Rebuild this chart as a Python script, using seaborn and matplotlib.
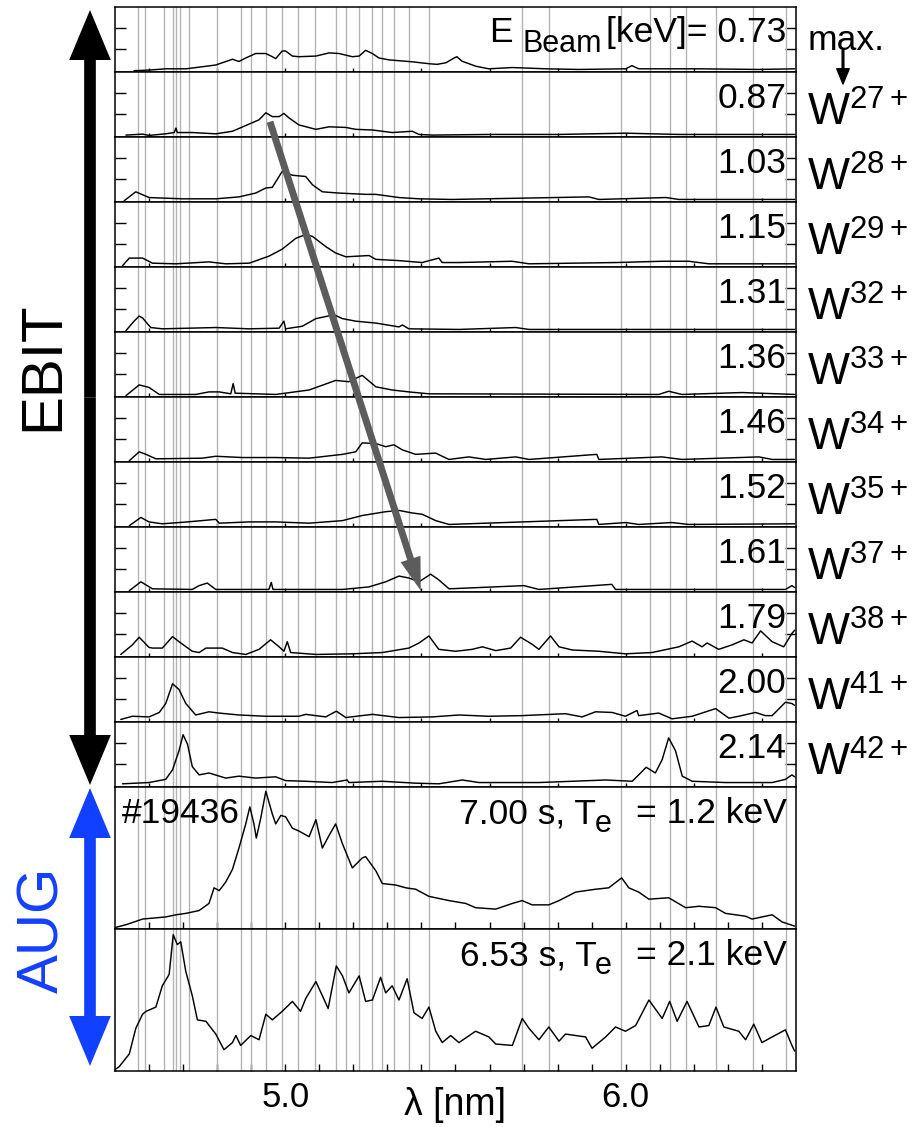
import numpy as np
import pandas as pd
import matplotlib
matplotlib.use("Agg")
import matplotlib.pyplot as plt
from matplotlib.patches import FancyArrowPatch, ConnectionPatch, ArrowStyle
import seaborn as sns

# ---------------- data: normalised intensity vs wavelength (nm) ----------------
lam_073 = [4.556, 4.600, 4.649, 4.708, 4.747, 4.796, 4.845, 4.864, 4.884, 4.913, 4.943, 4.962, 4.972,
           4.991, 5.001, 5.021, 5.040, 5.090, 5.129, 5.158, 5.197, 5.217, 5.236, 5.256, 5.275, 5.305,
           5.373, 5.422, 5.446, 5.472, 5.496, 5.504, 5.519, 5.560, 5.598, 5.666, 5.766, 5.862, 6.000,
           6.018, 6.038, 6.215, 6.391, 6.496]
int_073 = [0.00, 0.01, 0.03, 0.03, 0.056, 0.09, 0.18, 0.145, 0.20, 0.27, 0.27, 0.22, 0.19,
           0.31, 0.31, 0.23, 0.22, 0.23, 0.28, 0.27, 0.22, 0.23, 0.32, 0.27, 0.20, 0.17,
           0.14, 0.11, 0.10, 0.125, 0.20, 0.22, 0.15, 0.07, 0.03, 0.05, 0.03, 0.02, 0.03,
           0.08, 0.03, 0.03, 0.02, 0.03]

lam_087 = [4.532, 4.581, 4.600, 4.649, 4.674, 4.679, 4.683, 4.727, 4.796, 4.845, 4.884, 4.923, 4.943,
           4.962, 4.982, 4.996, 5.011, 5.040, 5.090, 5.129, 5.178, 5.207, 5.256, 5.314, 5.373, 5.393,
           5.432, 5.598, 5.804, 6.000, 6.156, 6.496]
int_087 = [0.01, 0.025, 0.005, 0.03, 0.05, 0.12, 0.05, 0.05, 0.03, 0.07, 0.16, 0.25, 0.36,
           0.30, 0.30, 0.35, 0.28, 0.17, 0.10, 0.14, 0.13, 0.10, 0.09, 0.05, 0.07, 0.02,
           0.01, 0.02, 0.02, 0.04, 0.02, 0.02]

lam_103 = [4.527, 4.561, 4.600, 4.649, 4.698, 4.796, 4.864, 4.913, 4.943, 4.962, 4.991, 5.021, 5.060,
           5.080, 5.109, 5.158, 5.236, 5.266, 5.334, 5.393, 5.490, 5.892, 5.921, 6.118, 6.156, 6.496]
int_103 = [0.00, 0.14, 0.05, 0.04, 0.03, 0.03, 0.06, 0.12, 0.20, 0.21, 0.46, 0.40, 0.38,
           0.25, 0.14, 0.12, 0.10, 0.10, 0.05, 0.03, 0.02, 0.06, 0.02, 0.05, 0.02, 0.02]

lam_115 = [4.522, 4.542, 4.581, 4.610, 4.679, 4.776, 4.825, 4.894, 4.952, 4.991, 5.031, 5.060, 5.080,
           5.119, 5.148, 5.178, 5.246, 5.266, 5.334, 5.402, 5.451, 5.461, 5.510, 5.666, 5.716, 5.971,
           6.106, 6.185, 6.244, 6.496]
int_115 = [0.00, 0.12, 0.12, 0.04, 0.03, 0.06, 0.03, 0.04, 0.15, 0.26, 0.43, 0.49, 0.46,
           0.30, 0.20, 0.14, 0.16, 0.10, 0.08, 0.05, 0.12, 0.05, 0.05, 0.07, 0.03, 0.05,
           0.07, 0.07, 0.03, 0.03]

lam_131 = [4.532, 4.556, 4.571, 4.581, 4.605, 4.639, 4.796, 4.894, 4.982, 4.996, 5.001, 5.050, 5.090,
           5.143, 5.168, 5.207, 5.266, 5.334, 5.344, 5.363, 5.510, 5.677, 5.716, 6.496]
int_131 = [0.00, 0.15, 0.23, 0.20, 0.05, 0.03, 0.05, 0.03, 0.04, 0.15, 0.03, 0.07, 0.19,
           0.25, 0.19, 0.15, 0.12, 0.06, 0.09, 0.03, 0.02, 0.05, 0.02, 0.02]

lam_136 = [4.532, 4.571, 4.600, 4.630, 4.737, 4.776, 4.806, 4.840, 4.847, 4.853, 4.972, 5.070, 5.148,
           5.187, 5.226, 5.266, 5.314, 5.363, 5.422, 6.097, 6.126, 6.165, 6.341, 6.496]
int_136 = [0.00, 0.17, 0.13, 0.02, 0.02, 0.06, 0.06, 0.03, 0.19, 0.04, 0.02, 0.09, 0.24,
           0.22, 0.32, 0.14, 0.09, 0.06, 0.03, 0.02, 0.07, 0.02, 0.05, 0.02]

lam_146 = [4.542, 4.571, 4.591, 4.620, 4.756, 4.796, 4.874, 4.972, 5.070, 5.168, 5.207, 5.226, 5.266,
           5.295, 5.319, 5.344, 5.383, 5.442, 5.461, 5.481, 5.539, 5.589, 5.677, 5.716, 5.915, 5.921,
           6.106, 6.165, 6.391, 6.430, 6.496]
int_146 = [0.00, 0.14, 0.10, 0.03, 0.04, 0.07, 0.05, 0.05, 0.04, 0.10, 0.14, 0.28, 0.27,
           0.22, 0.25, 0.17, 0.10, 0.12, 0.07, 0.02, 0.06, 0.02, 0.06, 0.02, 0.10, 0.02,
           0.06, 0.02, 0.06, 0.02, 0.02]

lam_152 = [4.542, 4.576, 4.600, 4.639, 4.713, 4.796, 4.806, 4.894, 4.972, 5.070, 5.168, 5.226, 5.295,
           5.334, 5.373, 5.402, 5.442, 5.481, 5.915, 5.921, 6.000, 6.038, 6.135, 6.185, 6.496]
int_152 = [0.00, 0.13, 0.06, 0.03, 0.06, 0.10, 0.04, 0.06, 0.06, 0.04, 0.08, 0.16, 0.22,
           0.24, 0.20, 0.18, 0.08, 0.02, 0.10, 0.02, 0.05, 0.02, 0.05, 0.02, 0.03]

lam_161 = [4.542, 4.576, 4.610, 4.727, 4.747, 4.771, 4.796, 4.952, 4.959, 4.964, 5.168, 5.246, 5.295,
           5.334, 5.363, 5.393, 5.427, 5.451, 5.481, 5.701, 5.745, 5.959, 5.970, 6.469, 6.488, 6.496]
int_161 = [0.00, 0.14, 0.03, 0.02, 0.08, 0.12, 0.02, 0.02, 0.13, 0.02, 0.02, 0.06, 0.14,
           0.23, 0.20, 0.14, 0.26, 0.17, 0.03, 0.08, 0.02, 0.10, 0.02, 0.02, 0.08, 0.05]

lam_179 = [4.517, 4.551, 4.571, 4.600, 4.610, 4.639, 4.669, 4.688, 4.727, 4.747, 4.767, 4.815, 4.845,
           4.884, 4.923, 4.957, 4.982, 4.996, 5.006, 5.016, 5.090, 5.197, 5.285, 5.363, 5.393, 5.422,
           5.451, 5.500, 5.549, 5.579, 5.618, 5.662, 5.691, 5.725, 5.745, 5.779, 5.804, 5.843, 5.921,
           5.999, 6.077, 6.156, 6.195, 6.224, 6.239, 6.273, 6.312, 6.347, 6.371, 6.396, 6.430, 6.464,
           6.488, 6.496]
int_179 = [0.02, 0.17, 0.29, 0.13, 0.12, 0.12, 0.30, 0.22, 0.07, 0.05, 0.12, 0.12, 0.05,
           0.02, 0.10, 0.25, 0.14, 0.07, 0.22, 0.05, 0.02, 0.03, 0.05, 0.12, 0.20, 0.31,
           0.10, 0.07, 0.10, 0.14, 0.08, 0.12, 0.29, 0.18, 0.10, 0.31, 0.14, 0.09, 0.07,
           0.03, 0.05, 0.14, 0.23, 0.14, 0.20, 0.10, 0.17, 0.25, 0.20, 0.39, 0.22, 0.14,
           0.35, 0.40]

lam_200 = [4.517, 4.551, 4.600, 4.630, 4.649, 4.669, 4.688, 4.708, 4.737, 4.776, 4.806, 4.864, 4.943,
           5.040, 5.060, 5.119, 5.150, 5.178, 5.256, 5.334, 5.432, 5.510, 5.598, 5.695, 5.823, 5.872,
           5.911, 5.960, 5.999, 6.033, 6.038, 6.097, 6.136, 6.195, 6.264, 6.303, 6.332, 6.381, 6.410,
           6.430, 6.469, 6.488, 6.496]
int_200 = [0.02, 0.07, 0.06, 0.13, 0.27, 0.58, 0.49, 0.27, 0.09, 0.14, 0.12, 0.09, 0.07,
           0.07, 0.10, 0.06, 0.15, 0.05, 0.10, 0.05, 0.06, 0.09, 0.07, 0.08, 0.11, 0.06,
           0.14, 0.13, 0.07, 0.16, 0.08, 0.12, 0.03, 0.07, 0.19, 0.04, 0.07, 0.13, 0.08,
           0.08, 0.29, 0.27, 0.24]

lam_214 = [4.522, 4.600, 4.649, 4.669, 4.688, 4.700, 4.713, 4.727, 4.747, 4.776, 4.825, 4.864, 4.913,
           4.972, 5.001, 5.060, 5.138, 5.182, 5.187, 5.285, 5.383, 5.451, 5.520, 5.569, 5.745, 5.941,
           6.019, 6.038, 6.060, 6.087, 6.107, 6.126, 6.146, 6.166, 6.195, 6.293, 6.430, 6.469, 6.488,
           6.496]
int_214 = [0.03, 0.05, 0.10, 0.25, 0.55, 0.80, 0.65, 0.30, 0.17, 0.20, 0.12, 0.15, 0.12,
           0.14, 0.08, 0.07, 0.05, 0.09, 0.05, 0.07, 0.04, 0.03, 0.09, 0.05, 0.05, 0.09,
           0.07, 0.17, 0.29, 0.20, 0.41, 0.75, 0.55, 0.15, 0.07, 0.05, 0.05, 0.10, 0.17,
           0.14]

# ---------------- tokamak (AUG) spectra ----------------
lam_aug_700 = [4.500, 4.532, 4.581, 4.649, 4.679, 4.708, 4.747, 4.776, 4.791, 4.806, 4.825, 4.845, 4.864,
               4.884, 4.896, 4.908, 4.915, 4.928, 4.943, 4.962, 4.972, 4.987, 5.001, 5.021, 5.040, 5.070,
               5.090, 5.109, 5.129, 5.148, 5.168, 5.197, 5.226, 5.236, 5.266, 5.285, 5.324, 5.354, 5.383,
               5.422, 5.481, 5.530, 5.559, 5.618, 5.667, 5.696, 5.725, 5.774, 5.804, 5.853, 5.911, 5.950,
               5.988, 6.009, 6.038, 6.068, 6.126, 6.176, 6.215, 6.264, 6.293, 6.352, 6.371, 6.430, 6.459,
               6.496]
int_aug_700 = [0.01, 0.03, 0.07, 0.085, 0.10, 0.11, 0.13, 0.18, 0.29, 0.27, 0.33, 0.42, 0.57,
               0.74, 0.86, 0.74, 0.64, 0.78, 0.97, 0.81, 0.74, 0.80, 0.79, 0.71, 0.69, 0.65,
               0.77, 0.57, 0.66, 0.74, 0.60, 0.43, 0.50, 0.51, 0.41, 0.32, 0.31, 0.29, 0.28,
               0.23, 0.20, 0.18, 0.15, 0.14, 0.18, 0.20, 0.17, 0.17, 0.20, 0.26, 0.28, 0.29,
               0.36, 0.29, 0.26, 0.21, 0.22, 0.15, 0.16, 0.15, 0.11, 0.09, 0.07, 0.10, 0.05,
               0.02]

lam_aug_653 = [4.500, 4.512, 4.542, 4.561, 4.581, 4.591, 4.620, 4.639, 4.659, 4.671, 4.683, 4.693, 4.708,
               4.727, 4.742, 4.767, 4.796, 4.820, 4.845, 4.855, 4.869, 4.899, 4.923, 4.943, 4.962, 4.991,
               5.021, 5.045, 5.060, 5.090, 5.109, 5.126, 5.150, 5.168, 5.187, 5.217, 5.236, 5.256, 5.280,
               5.295, 5.314, 5.334, 5.358, 5.378, 5.402, 5.422, 5.442, 5.461, 5.486, 5.510, 5.559, 5.598,
               5.618, 5.667, 5.696, 5.716, 5.745, 5.774, 5.804, 5.823, 5.882, 5.901, 5.941, 5.970, 5.999,
               6.029, 6.068, 6.107, 6.129, 6.151, 6.180, 6.215, 6.244, 6.265, 6.288, 6.332, 6.352, 6.376,
               6.400, 6.430, 6.469, 6.488, 6.496]
int_aug_653 = [0.01, 0.03, 0.12, 0.30, 0.40, 0.42, 0.45, 0.60, 0.68, 0.96, 0.89, 0.91, 0.70,
               0.53, 0.36, 0.35, 0.26, 0.15, 0.20, 0.25, 0.18, 0.25, 0.22, 0.40, 0.36, 0.42,
               0.49, 0.42, 0.51, 0.63, 0.53, 0.44, 0.74, 0.67, 0.55, 0.67, 0.49, 0.50, 0.66,
               0.55, 0.60, 0.50, 0.65, 0.41, 0.37, 0.45, 0.28, 0.20, 0.25, 0.20, 0.28, 0.24,
               0.19, 0.18, 0.37, 0.30, 0.22, 0.31, 0.21, 0.26, 0.24, 0.16, 0.24, 0.31, 0.28,
               0.32, 0.50, 0.37, 0.49, 0.35, 0.49, 0.31, 0.32, 0.45, 0.31, 0.28, 0.22, 0.33,
               0.20, 0.24, 0.29, 0.18, 0.14]

ebit_lam = [lam_073, lam_087, lam_103, lam_115, lam_131, lam_136, lam_146, lam_152, lam_161,
            lam_179, lam_200, lam_214]
ebit_int = [int_073, int_087, int_103, int_115, int_131, int_136, int_146, int_152, int_161,
            int_179, int_200, int_214]
beam_energies = ["0.73", "0.87", "1.03", "1.15", "1.31", "1.36", "1.46", "1.52", "1.61",
                 "1.79", "2.00", "2.14"]
charge_states = ["27+", "28+", "29+", "32+", "33+", "34+", "35+", "37+", "38+", "41+", "42+"]

aug_lam = [lam_aug_700, lam_aug_653]
aug_int = [int_aug_700, int_aug_653]
aug_times = ["7.00", "6.53"]
aug_te = ["1.2", "2.1"]
aug_shot = "#19436"

# reference wavelengths (nm) marked by thin grey lines
ref_lines = [4.568, 4.588, 4.645, 4.669, 4.678, 4.692, 4.717, 4.799, 4.871, 4.898, 4.944, 4.990,
             5.038, 5.087, 5.148, 5.177, 5.218, 5.255, 5.283, 5.320, 5.362, 5.422, 5.694, 5.774,
             5.987, 6.070, 6.129, 6.178, 6.265, 6.375, 6.471]

# trend arrow: peak shift from the 0.87 keV to the 1.61 keV spectrum
trend_start = (4.955, 0.22)   # in the 0.87 keV panel
trend_end = (5.398, 0.0)      # in the 1.61 keV panel

# ---------------- style ----------------
sns.set_theme(style="white")
plt.rcParams["font.family"] = ["Liberation Sans", "DejaVu Sans"]
plt.rcParams["mathtext.fontset"] = "custom"
plt.rcParams["mathtext.rm"] = "Liberation Sans"
plt.rcParams["mathtext.it"] = "Liberation Sans:italic"
plt.rcParams["mathtext.bf"] = "Liberation Sans:bold"
plt.rcParams["axes.edgecolor"] = "black"
plt.rcParams["axes.linewidth"] = 1.1
plt.rcParams["text.color"] = "black"
plt.rcParams["axes.labelcolor"] = "black"
plt.rcParams["xtick.color"] = "black"
plt.rcParams["ytick.color"] = "black"

W, H = 916, 1127
fig = plt.figure(figsize=(W / 100, H / 100), dpi=100)
fig.patch.set_facecolor("white")

def fx(px):
    return px / W

def fy(py):
    return 1 - py / H

gs = fig.add_gridspec(14, 1, height_ratios=[65] * 12 + [142, 142],
                      left=fx(115), right=fx(796), top=fy(7), bottom=fy(1071), hspace=0)
axes = [fig.add_subplot(gs[i]) for i in range(14)]

XMIN, XMAX = 4.5, 6.5
LBL = 25.5
SUB = 22

def draw_panel(ax, lam, inten, ylim):
    for xl in ref_lines:
        ax.axvline(xl, color="#b4b4b4", lw=1.0, zorder=1)
    df = pd.DataFrame({"lam": lam, "I": inten})
    sns.lineplot(data=df, x="lam", y="I", ax=ax, color="black", lw=1.05,
                 estimator=None, sort=False, legend=False, zorder=3)
    ax.set_xlim(XMIN, XMAX)
    ax.set_ylim(*ylim)
    ax.set_xlabel("")
    ax.set_ylabel("")
    ax.set_facecolor("white")
    for s in ax.spines.values():
        s.set_color("black")
        s.set_linewidth(1.1)

def chain_right(ax, x, y, segments):
    """Right-aligned run of text pieces sharing a baseline; each piece is
    (text, fontsize, vertical shift in points, gap to the next piece in points)."""
    prev = None
    for txt, size, rise, gap in reversed(segments):
        if prev is None:
            prev = ax.annotate(txt, xy=(x, y), xycoords=ax.transAxes,
                               xytext=(0, rise), textcoords="offset points",
                               ha="right", va="baseline", fontsize=size, zorder=6,
                               color="black")
        else:
            prev = ax.annotate(txt, xy=(0, y), xycoords=(prev, ax.transAxes),
                               xytext=(-gap, rise), textcoords="offset points",
                               ha="right", va="baseline", fontsize=size, zorder=6,
                               color="black")

for i in range(12):
    ax = axes[i]
    draw_panel(ax, ebit_lam[i], ebit_int[i], (-0.02, 1.0))
    ax.set_yticks([1 / 3, 2 / 3])
    ax.set_xticks(np.arange(4.6, 6.45, 0.2))
    ax.tick_params(axis="y", direction="in", length=8, width=1.0, left=True, right=True,
                   labelleft=False, labelright=False, color="black")
    ax.tick_params(axis="x", direction="in", length=3, width=1.0, bottom=True, top=False,
                   labelbottom=False, color="black")
    if i == 0:
        chain_right(ax, 0.986, 0.46, [("E", LBL, 0, 7), ("Beam", SUB, -7, 3),
                                      ("[keV]= " + beam_energies[i], LBL, 0, 0)])
    else:
        ax.text(0.986, 0.45, beam_energies[i], transform=ax.transAxes, ha="right",
                va="baseline", fontsize=LBL, color="black", zorder=6)

for j in range(2):
    ax = axes[12 + j]
    draw_panel(ax, aug_lam[j], aug_int[j], (0.0, 1.0))
    ax.set_yticks([])
    ax.set_xticks([5.0, 6.0])
    ax.set_xticks(np.arange(4.6, 6.45, 0.1), minor=True)
    ax.tick_params(axis="x", which="both", direction="in", length=5, width=1.0,
                   bottom=True, top=False, color="black")
    ax.tick_params(axis="x", which="major", labelbottom=(j == 1), labelsize=25, pad=7,
                   labelcolor="black")
    chain_right(ax, 0.986, 0.745, [(aug_times[j] + " s, T", LBL, 0, -1), ("e", SUB, -6, 17),
                                   ("= " + aug_te[j] + " keV", LBL, 0, 0)])
    if j == 0:
        ax.text(0.01, 0.745, aug_shot, transform=ax.transAxes, ha="left", va="baseline",
                fontsize=LBL, color="black", zorder=6)

axes[-1].set_xticklabels(["5.0", "6.0"])
axes[-1].set_xlabel("λ [nm]", fontsize=27, color="black")
axes[-1].xaxis.set_label_coords(0.5, -0.11)

# charge-state labels on the right
fig.text(fx(808), fy(40), "max.", fontsize=LBL, ha="left", va="center", color="black")
for k, cs in enumerate(charge_states):
    y_base = 7 + 65 * (k + 1) + 54
    fig.text(fx(807), fy(y_base), r"W$^{" + cs + "}$", fontsize=32, ha="left",
             va="baseline", color="black")

fig.add_artist(FancyArrowPatch((fx(843), fy(50)), (fx(843), fy(84)), transform=fig.transFigure,
                               arrowstyle=ArrowStyle.Simple(head_length=1.1, head_width=0.9,
                                                            tail_width=0.12),
                               mutation_scale=10, color="black", shrinkA=0, shrinkB=0))

# EBIT / AUG double arrows
def double_arrow(x, y0, y1, color, scale=20):
    ym = 0.5 * (y0 + y1)
    style = ArrowStyle.Simple(head_length=1.8, head_width=1.5, tail_width=0.42)
    for yend in (y0, y1):
        fig.add_artist(FancyArrowPatch((fx(x), fy(ym)), (fx(x), fy(yend)),
                                       transform=fig.transFigure, arrowstyle=style,
                                       mutation_scale=scale, color=color,
                                       shrinkA=0, shrinkB=0, lw=0))

double_arrow(90, 10, 785, "black")
double_arrow(90, 788, 1066, "#1240ff")
fig.text(fx(43), fy(366), "EBIT", rotation=90, fontsize=42, ha="center", va="center", color="black")
fig.text(fx(43), fy(930), "AUG", rotation=90, fontsize=42, ha="center", va="center", color="#1240ff")

# grey trend arrow across the EBIT panels
trend = ConnectionPatch(xyA=trend_start, coordsA=axes[1].transData,
                        xyB=trend_end, coordsB=axes[8].transData,
                        arrowstyle=ArrowStyle.Simple(head_length=2.4, head_width=1.5, tail_width=0.5),
                        mutation_scale=10, color="#5c5c5c", shrinkA=0, shrinkB=0, lw=0, zorder=10)
fig.add_artist(trend)

fig.savefig("out.png", dpi=100, facecolor="white")
